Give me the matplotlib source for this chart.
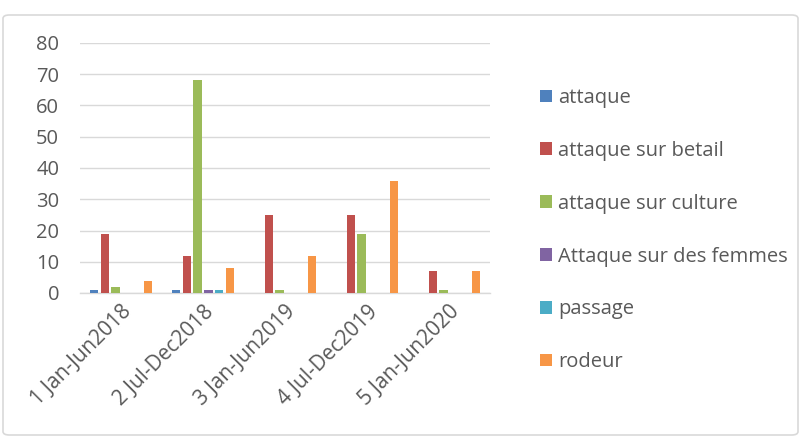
import matplotlib
matplotlib.use("Agg")
import matplotlib.pyplot as plt
import numpy as np
from matplotlib.patches import FancyBboxPatch, Patch

categories = ["1 Jan-Jun2018", "2 Jul-Dec2018", "3 Jan-Jun2019", "4 Jul-Dec2019", "5 Jan-Jun2020"]
series_names = ["attaque", "attaque sur betail", "attaque sur culture",
                "Attaque sur des femmes", "passage", "rodeur"]
attaque = [1, 1, 0, 0, 0]
attaque_betail = [19, 12, 25, 25, 7]
attaque_culture = [2, 68, 1, 19, 1]
attaque_femmes = [0, 1, 0, 0, 0]
passage = [0, 1, 0, 0, 0]
rodeur = [4, 8, 12, 36, 7]
yticks = [0, 10, 20, 30, 40, 50, 60, 70, 80]

series = [attaque, attaque_betail, attaque_culture, attaque_femmes, passage, rodeur]
colors = ["#4f81bd", "#c0504d", "#9bbb59", "#8064a2", "#4bacc6", "#f79646"]

plt.rcParams['font.family'] = ['Open Sans', 'DejaVu Sans']
W, H = 801, 437
fig = plt.figure(figsize=(W / 100, H / 100), dpi=100)

border = FancyBboxPatch((3 / W, 2 / H), (W - 6) / W, (H - 17) / H,
                        boxstyle="round,pad=0,rounding_size=0.008",
                        transform=fig.transFigure, fill=False,
                        edgecolor="#d9d9d9", linewidth=1.2)
fig.patches.append(border)

ax = fig.add_axes([80 / W, 1 - 293 / H, 410 / W, 250 / H])
x = np.arange(len(categories))
n = len(series)
step = 0.133
width = 0.1
for i, (vals, c) in enumerate(zip(series, colors)):
    offs = (i - (n - 1) / 2) * step
    ax.bar(x + offs, vals, width=width, color=c, zorder=3)

ax.set_xlim(-0.5, len(categories) - 0.5)
ax.set_ylim(0, 80)
ax.set_yticks(yticks)
ax.yaxis.grid(True, color="#d9d9d9", linewidth=1, zorder=0)
for s in ["top", "right", "left"]:
    ax.spines[s].set_visible(False)
ax.spines["bottom"].set_color("#d9d9d9")
ax.spines["bottom"].set_linewidth(1)
ax.tick_params(axis="y", length=0, labelsize=14.5, labelcolor="#595959", pad=15)
ax.set_xticks(x)
ax.set_xticklabels(categories, rotation=45, ha="right", rotation_mode="anchor")
ax.tick_params(axis="x", length=0, labelsize=15, labelcolor="#595959", pad=6)

handles = [Patch(facecolor=c, edgecolor="none") for c in colors]
fig.legend(handles, series_names, loc="upper left", bbox_to_anchor=(532 / W, 1 - 80 / H),
           frameon=False, fontsize=14.5, labelcolor="#595959", labelspacing=1.63,
           handlelength=0.6, handleheight=0.6, handletextpad=0.3, borderaxespad=0)

fig.savefig("out.png", dpi=100)
